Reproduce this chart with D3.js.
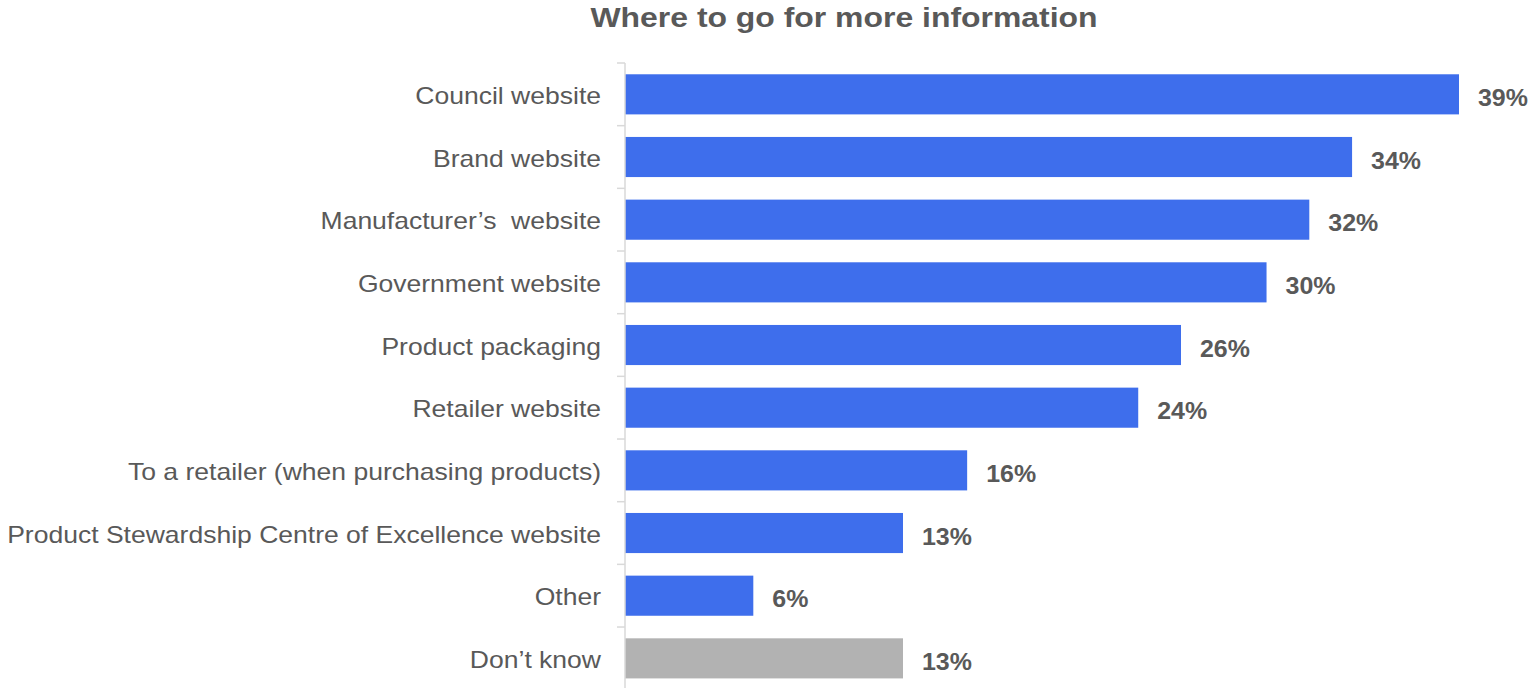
<!DOCTYPE html>
<html>
<head>
<meta charset="utf-8">
<script src="https://cdn.jsdelivr.net/npm/d3@7"></script>
<style>
  html, body { margin: 0; padding: 0; background: #ffffff; }
  svg { display: block; }
  text { white-space: pre; }
</style>
</head>
<body>
<svg id="chart" width="1534" height="688"></svg>
<script>
// Survey answers: where people would go for more information
const categories = [
  "Council website",
  "Brand website",
  "Manufacturer\u2019s  website",
  "Government website",
  "Product packaging",
  "Retailer website",
  "To a retailer (when purchasing products)",
  "Product Stewardship Centre of Excellence website",
  "Other",
  "Don\u2019t know"
];
const values = [39, 34, 32, 30, 26, 24, 16, 13, 6, 13];
const valueLabels = ["39%", "34%", "32%", "30%", "26%", "24%", "16%", "13%", "6%", "13%"];
const neutralCategories = ["Don\u2019t know"];

const svg = d3.select("#chart");
const textColor = "#595959";
const fontFamily = "Liberation Sans, Arial, sans-serif";

const plotTop = 63, plotBottom = 689.7;
const x = d3.scaleLinear().domain([0, 39]).range([625, 1459]);
const y = d3.scaleBand().domain(categories).range([plotTop, plotBottom]).paddingInner(0.36).paddingOuter(0.18);

// Title (slightly widened lettering)
svg.append("text")
  .attr("transform", "translate(844,27) scale(1.14,1)")
  .attr("text-anchor", "middle")
  .attr("font-family", fontFamily)
  .attr("font-weight", "bold")
  .attr("font-size", 28)
  .attr("fill", textColor)
  .text("Where to go for more information");

// Bars
svg.append("g").selectAll("rect")
  .data(categories)
  .join("rect")
  .attr("x", x(0))
  .attr("y", d => y(d))
  .attr("width", (d, i) => x(values[i]) - x(0))
  .attr("height", y.bandwidth())
  .attr("fill", d => neutralCategories.includes(d) ? "#b2b2b2" : "#3e6eec");

// Category axis: vertical line with ticks at band boundaries
const axisG = svg.append("g");
axisG.append("line")
  .attr("x1", x(0)).attr("x2", x(0))
  .attr("y1", plotTop).attr("y2", 690)
  .attr("stroke", "#d9d9d9").attr("stroke-width", 1.5);
const boundaries = d3.range(categories.length + 1)
  .map(i => plotTop + i * ((plotBottom - plotTop) / categories.length));
axisG.selectAll("line.tick")
  .data(boundaries)
  .join("line")
  .attr("class", "tick")
  .attr("x1", x(0) - 8).attr("x2", x(0))
  .attr("y1", d => d).attr("y2", d => d)
  .attr("stroke", "#d9d9d9").attr("stroke-width", 1.5);

axisG.selectAll("text")
  .data(categories)
  .join("text")
  .attr("transform", d => `translate(601,${y(d) + y.bandwidth() / 2}) scale(1.105,1)`)
  .attr("dy", "0.4em")
  .attr("text-anchor", "end")
  .attr("font-family", fontFamily)
  .attr("font-size", 24)
  .attr("fill", textColor)
  .text(d => d);

// Value labels
svg.append("g").selectAll("text")
  .data(categories)
  .join("text")
  .attr("transform", (d, i) => `translate(${x(values[i]) + 19},${y(d) + y.bandwidth() / 2}) scale(1.04,1)`)
  .attr("dy", "0.48em")
  .attr("font-family", fontFamily)
  .attr("font-weight", "bold")
  .attr("font-size", 24)
  .attr("fill", textColor)
  .text((d, i) => valueLabels[i]);
</script>
</body>
</html>
